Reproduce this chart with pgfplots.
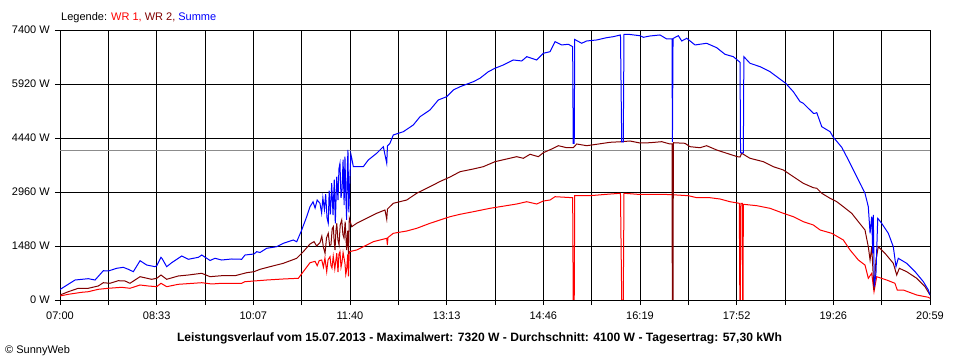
\documentclass[border=0pt]{standalone}
\usepackage{pgfplots}
\pgfplotsset{compat=1.18}
\usepackage{fontspec}
\setmainfont{Liberation Sans}
\definecolor{wrone}{RGB}{255,0,0}
\definecolor{wrtwo}{RGB}{128,0,0}
\definecolor{summe}{RGB}{0,0,255}
\definecolor{avg}{RGB}{140,140,140}
\newcommand{\tfont}{\fontsize{11bp}{13bp}\selectfont}
\begin{document}
\begin{tikzpicture}
\path[use as bounding box] (0,0) rectangle (960bp,360bp);
\begin{axis}[
  at={(60bp,60bp)}, anchor=south west,
  scale only axis, width=870bp, height=270bp,
  xmin=0, xmax=839, ymin=0, ymax=7400,
  axis line style={black, line width=1bp},
  xtick={0,93.222,186.444,279.667,372.889,466.111,559.333,652.556,745.778,839},
  xticklabels={07:00,08:33,10:07,11:40,13:13,14:46,16:19,17:52,19:26,20:59},
  minor xtick={46.611,139.833,233.056,326.278,419.5,512.722,605.944,699.167,792.389},
  ytick={0,1480,2960,4440,5920,7400},
  yticklabels={0 W,1480 W,2960 W,4440 W,5920 W,7400 W},
  grid=both,
  major grid style={black, line width=1bp},
  minor grid style={black, line width=1bp},
  xtick pos=bottom, ytick pos=left,
  tick align=outside,
  major tick length=5bp, minor tick length=5bp,
  every tick/.style={black, line width=1bp},
  every minor tick/.style={black, line width=1bp},
  xticklabel style={font=\tfont, inner sep=6.5bp},
  yticklabel style={font=\tfont, inner sep=5bp},
  /pgf/number format/assume math mode=true,
]
\addplot[avg, line width=1bp] coordinates {(0,4100) (839,4100)};
% WR 1
\addplot[wrone, line width=1bp] coordinates {
(0,110) (8.0,156) (20.9,211) (27.3,227) (36.9,293) (46.6,321) (59.5,348) (67.5,321)
(77.2,411) (85.2,384) (93.3,365) (97.4,458) (102.9,365) (114.1,430) (136.7,474)
(146.3,439) (155.9,458) (175.2,458) (178.4,502) (187.1,521) (199.3,548) (215.4,576)
(229.8,595) (234.6,776) (241.1,1022) (246,1060) (248,940) (250,1080) (252.4,1096)
(254,900) (255.5,1150) (257.2,776) (258.5,1100) (260.4,1187) (261.3,950) (262.3,877)
(263.5,1200) (265,850) (266.9,1280) (268.1,767) (269,1250) (270.0,1324) (271,900)
(272.0,1042) (273,1300) (274.8,1006) (275.6,700) (276.4,822) (277.5,1250) (278.2,650)
(279.0,1324)
(286.1,1371) (292.5,1461) (302.1,1598) (315.1,1691) (315.7,1508) (316.3,1713)
(321.4,1828) (334.4,1891) (344.0,1965) (356.8,2102) (366.5,2193) (376.1,2283)
(385.8,2349) (398.6,2420) (414.7,2513) (424.3,2557) (440.4,2631) (450.1,2694)
(459.7,2631) (466.1,2713) (472.6,2741) (477.4,2831) (494.4,2804) (494.9,0) (495.9,0)
(496.4,2859) (511.1,2859) (527.2,2897) (540.5,2925) (541.7,0) (543.2,0) (543.9,2925)
(559.3,2892) (581.8,2897) (594.7,2878) (605.9,2859) (614.0,2804) (626.8,2804)
(636.5,2768) (646.1,2694) (655.1,2650) (655.6,0) (656.1,0) (656.5,2650) (658.0,2650)
(658.3,0) (658.7,0) (659.0,2623) (671.9,2585) (684.7,2513) (697.6,2376) (707.2,2283)
(716.8,2146) (726.5,2056) (733.0,1919) (744.2,1828) (755.4,1645) (761.9,1371)
(769.9,1096) (776.3,959) (779.5,595) (782.8,732) (785.0,227) (787.6,639) (797.2,548)
(805.2,458) (807.4,274) (813.2,274) (826.2,137) (837.4,74) (839,47)
};
% WR 2
\addplot[wrtwo, line width=1bp] coordinates {
(0,137) (8.0,227) (17.6,321) (27.3,321) (36.9,384) (41.8,474) (48.2,458) (56.2,529)
(62.7,521) (67.5,458) (77.2,639) (88.4,567) (93.3,595) (97.4,685) (102.9,567)
(114.1,658) (123.7,685) (136.7,732) (144.7,639) (155.9,666) (168.8,666) (180.0,748)
(187.1,776) (192.9,841) (202.5,913) (215.4,1006) (228.3,1143) (234.6,1324) (241.1,1535)
(245,1600) (247.5,1480) (250.7,1571) (252.5,1750) (254,1450) (255.6,1280) (257,1700)
(258.7,1828) (260,1500) (261.3,1508) (262.5,1950) (263.6,2009) (264.4,1600)
(265.2,1371) (266.1,1900) (266.9,2102) (268,1650) (269.1,1508) (270.2,2050)
(271.7,2193) (272.8,1800) (273.9,1699) (275,2150) (276.4,1371) (277.5,1900)
(278.2,1250) (279.0,2239)
(281.3,2009) (286.1,2102) (292.5,2193) (305.4,2376) (313.4,2467) (315.1,2212)
(315.8,2494) (321.4,2650) (334.4,2741) (344.0,2925) (356.8,3106) (366.5,3248)
(376.1,3371) (385.8,3517) (398.6,3591) (408.2,3654) (419.5,3791) (430.8,3865)
(440.4,3928) (446.8,3884) (453.3,3994) (461.3,3928) (466.1,4037) (475.7,4158)
(480.6,4229) (488.6,4174) (495.0,4174) (498.3,4276) (507.9,4229) (517.6,4268)
(530.4,4322) (541.7,4339) (549.7,4358) (559.3,4303) (569.0,4311) (580.3,4339)
(588.2,4276) (590.2,4276) (590.5,0) (591.2,0) (591.5,4311) (602.7,4295) (607.5,4202)
(617.2,4174) (623.6,4229) (633.3,4111) (643.0,4021) (653.2,3928) (655.8,3919)
(657.4,4021) (665.4,3884) (678.3,3791) (687.9,3654) (697.6,3563) (707.2,3380)
(716.8,3198) (726.5,3078) (729.8,3062) (734.6,2925) (742.6,2788) (749.1,2694)
(755.4,2557) (763.5,2376) (769.9,2146) (776.3,1919) (779.5,1461) (781.2,1096)
(782.8,1461) (785.0,274) (786.9,1096) (789.1,1461) (795.6,1280) (803.6,1006)
(806.9,685) (809.4,869) (816.5,776) (826.2,595) (834.2,365) (839,137)
};
% Summe
\addplot[summe, line width=1bp] coordinates {
(0,288) (14.5,548) (27.3,584) (33.8,548) (41.8,803) (46.6,795) (54.7,869) (61.0,896)
(65.9,841) (70.7,776) (77.2,1077) (83.6,959) (91.6,913) (93.3,940) (97.4,1170)
(98.7,1124) (102.9,913) (107.7,1022) (117.4,1206) (123.7,1116) (133.4,1170)
(136.7,1233) (144.7,1083) (149.5,1143) (155.9,1096) (165.6,1124) (175.2,1116)
(178.4,1233) (187.1,1261) (189.7,1324) (192.9,1302) (199.3,1417) (209.0,1461)
(215.4,1554) (225.0,1645) (228.3,1598) (233.1,1919) (237.9,2283) (241.1,2557)
(244,2690) (246,2520) (248,2740) (250.7,2650) (252.3,2380) (253.5,2800) (255.0,2480)
(256.2,2900) (257.5,2250) (258.7,2102) (259.6,3000) (260.8,2350) (262,3200)
(263.3,2330) (264.5,3300) (265.5,2100) (266.9,3380) (268.1,2741) (269,3600)
(270.0,3747) (271,2800) (272.0,3015) (273,3850) (274,2600) (274.8,3928) (275.6,2900)
(276.4,2193) (277.2,3700) (277.7,4112) (278.5,2400) (279.7,3426) (280.5,4000)
(281.3,3892) (282.9,3654) (287.7,3654) (292.5,3654) (297.3,3837)
(305.4,4021) (311.8,4202) (315.1,3747) (315.8,4221) (318.2,4295) (321.4,4523)
(331.1,4613) (340.7,4797) (347.2,5024) (356.8,5208) (364.8,5482) (372.9,5572)
(379.3,5756) (385.8,5846) (398.6,5983) (405.0,6077) (413.1,6258) (419.5,6351)
(427.5,6441) (437.2,6578) (445.3,6551) (450.1,6669) (459.7,6578) (466.1,6762)
(472.6,6806) (477.4,7080) (483.8,6990) (490.2,7009) (494.4,6943) (494.9,4290)
(495.9,4290) (496.4,7140) (503.1,7036) (507.9,7099) (517.6,7127) (527.2,7190)
(533.6,7217) (540.5,7264) (541.7,4331) (543.2,4331) (543.9,7282) (548.1,7282)
(559.3,7244) (562.5,7200) (569.0,7236) (578.6,7264) (585.1,7154) (590.2,7154)
(590.6,4331) (591.2,7168) (596.3,7244) (599.6,7099) (604.4,7173) (612.4,6990)
(623.6,7036) (633.3,6915) (641.3,6734) (649.3,6669) (655.8,6515) (656.3,4029)
(659.0,4029) (659.5,6669) (665.4,6488) (675.1,6395) (684.7,6258) (691.2,6121)
(699.8,5940) (707.2,5709) (713.7,5435) (716.8,5391) (723.3,5208) (726.5,5117)
(728.1,5117) (729.8,5134) (734.6,4750) (742.6,4613) (745.8,4460) (753.9,4185)
(760.3,3837) (766.7,3473) (773.2,3106) (776.3,2925) (779.5,2557) (781.2,1828)
(782.8,2283) (783.8,1280) (784.3,2330) (785.3,365) (786.9,732) (788.6,2239)
(792.4,2102) (798.8,1828) (803.6,1461) (806.2,913) (808.4,1143) (816.5,1006)
(824.6,776) (832.6,502) (837.4,274) (839,137)
};
\end{axis}
\node[anchor=base west, inner sep=0pt, font=\tfont] at (61bp,339bp)
  {Legende: \textcolor{wrone}{WR 1,} \textcolor{wrtwo}{WR 2,} \textcolor{summe}{Summe}};
\node[anchor=base, inner sep=0pt, font=\fontsize{12.1bp}{14bp}\selectfont\bfseries] at (479.5bp,18.3bp)
  {Leistungsverlauf vom 15.07.2013 - Maximalwert: 7320 W - Durchschnitt: 4100 W - Tagesertrag: 57,30 kWh};
\node[anchor=base west, inner sep=0pt, font=\tfont] at (5bp,7bp) {\textcopyright{} SunnyWeb};
\end{tikzpicture}
\end{document}
